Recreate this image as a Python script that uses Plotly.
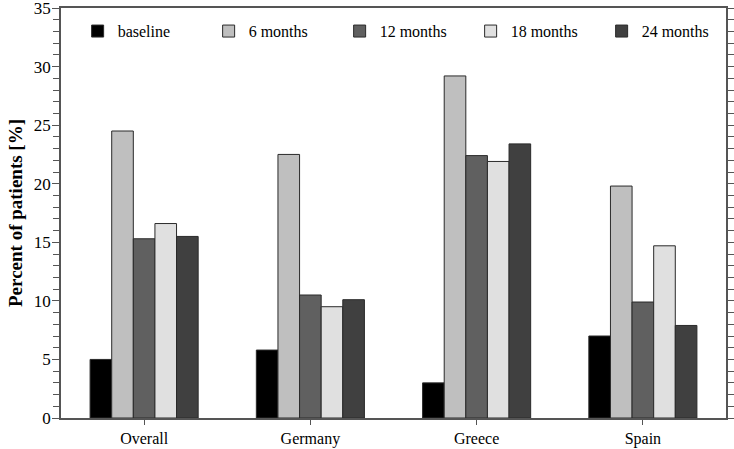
import plotly.graph_objects as go

categories = ["Overall", "Germany", "Greece", "Spain"]
series_names = ["baseline", "6 months", "12 months", "18 months", "24 months"]
baseline = [5.0, 5.8, 3.0, 7.0]
months_6 = [24.5, 22.5, 29.2, 19.8]
months_12 = [15.3, 10.5, 22.4, 9.9]
months_18 = [16.6, 9.5, 21.9, 14.7]
months_24 = [15.5, 10.1, 23.4, 7.9]
colors = ["#000000", "#bfbfbf", "#606060", "#e0e0e0", "#404040"]

values = [baseline, months_6, months_12, months_18, months_24]

fig = go.Figure()
for name, vals, c in zip(series_names, values, colors):
    fig.add_trace(go.Bar(
        x=categories, y=vals, name=name,
        marker=dict(color=c, line=dict(color="#2a2a2a", width=1)),
    ))

font_family = "Liberation Serif"
fig.update_layout(
    width=734, height=449,
    barmode="group", bargap=0.35, bargroupgap=0,
    plot_bgcolor="white", paper_bgcolor="white",
    margin=dict(l=61, r=8, t=8, b=31, autoexpand=False),
    font=dict(family=font_family, size=15, color="black"),
    legend=dict(
        orientation="h", x=0.025, y=0.985, xanchor="left", yanchor="top",
        bgcolor="rgba(0,0,0,0)", font=dict(size=16), traceorder="normal",
        entrywidth=86, entrywidthmode="pixels",
    ),
    showlegend=True,
)
fig.update_xaxes(
    showline=True, linecolor="#555555", linewidth=1.5, mirror=True,
    ticks="outside", ticklen=5, tickcolor="#555555",
    tickfont=dict(size=16), showgrid=False, automargin=False,
)
fig.update_yaxes(
    range=[0, 35], dtick=5, tick0=0,
    showline=True, linecolor="#555555", linewidth=1.5, mirror="ticks",
    ticks="outside", ticklen=7, tickcolor="#555555",
    minor=dict(dtick=1, ticks="outside", ticklen=6, tickcolor="#555555"),
    tickfont=dict(size=17), showgrid=False, zeroline=False, automargin=False,
    ticklabeloverflow="allow", ticklabelstandoff=-2,
    title=dict(text="<b>Percent of patients [%]</b>", font=dict(size=19), standoff=6),
)

fig.write_html(
    "out.html",
    config={"displayModeBar": False},
    post_script="document.body.style.margin='0';document.body.style.overflow='hidden';",
)
